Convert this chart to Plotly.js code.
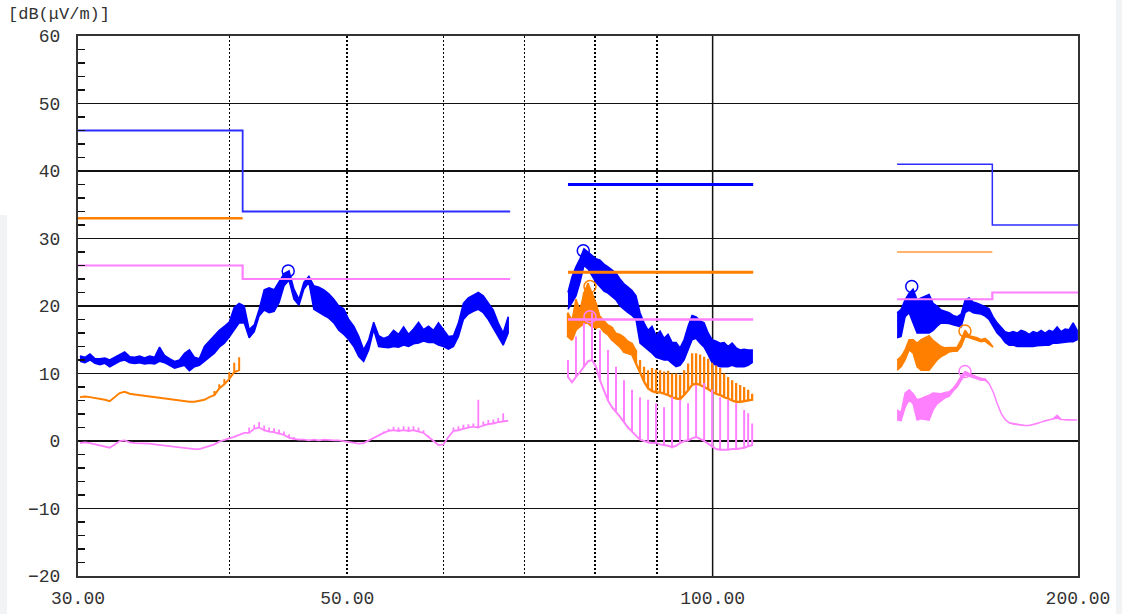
<!DOCTYPE html>
<html><head><meta charset="utf-8">
<script src="https://cdn.plot.ly/plotly-3.0.1.min.js"></script>
<style>html,body{margin:0;padding:0;background:#fff;}#chart{width:1122px;height:614px;}</style>
</head><body><div id="chart"></div>
<script>
// ---------- axis ticks ----------
const xTickVals = [30, 40, 50, 60, 70, 80, 90, 100, 200];
const xTickText = ['30.00', '', '50.00', '', '', '', '', '100.00', '200.00'];
const yUnit = '[dB(\u03bcV/m)]';

// ---------- limit lines (MHz, dBuV/m), null separates the three bands ----------
const blueLimitF   = [30, 41, 41, 68.1, null, 76, 108, null, 141.9, 170, 170, 200];
const blueLimitL   = [46, 46, 34, 34,   null, 38, 38,  null, 41,    41,  32,  32];
const orangeLimitF = [30, 41, null, 76, 108, null, 141.9, 170];
const orangeLimitL = [33, 33, null, 25, 25,  null, 28,    28];
const pinkLimitF   = [30, 41, 41, 68.1, null, 76, 108, null, 141.9, 170, 170, 200];
const pinkLimitL   = [26, 26, 24, 24,   null, 18, 18,  null, 21,    21,  22,  22];

// ---------- band 1 : 30 - 68 MHz ----------
const seg1Freq = [30.11,30.40,30.69,30.98,31.27,31.57,31.86,32.17,32.47,32.78,
  33.09,33.41,33.72,34.04,34.36,34.69,35.02,35.35,35.69,36.03,
  36.37,36.72,37.06,37.42,37.77,38.13,38.49,38.86,39.22,39.60,
  39.97,40.35,40.73,41.12,41.51,41.91,42.30,42.71,43.11,43.52,
  43.93,44.35,44.77,45.19,45.62,46.05,46.49,46.93,47.38,47.83,
  48.28,48.74,49.20,49.67,50.14,50.62,51.10,51.58,52.08,52.57,
  53.07,53.57,54.08,54.59,55.11,55.64,56.17,56.70,57.24,57.78,
  58.33,58.89,59.44,60.01,60.58,61.16,61.74,62.32,62.91,63.51,
  64.11,64.72,65.34,65.96,66.58,67.21,67.85];
const seg1BlueLo = [11.8,11.6,12.0,11.5,11.3,11.5,11.0,11.4,11.8,12.0,
  11.6,11.5,11.6,11.4,11.5,11.4,11.8,11.6,11.2,10.8,
  11.0,11.2,10.4,11.0,11.2,11.8,12.4,13.0,13.9,14.5,
  15.4,16.4,17.5,17.5,15.3,16.2,18.5,19.4,19.0,19.2,
  20.5,23.0,23.8,21.0,20.1,22.5,23.5,19.5,19.0,18.6,
  18.2,17.5,16.4,15.8,15.0,14.0,12.5,11.8,13.5,16.5,
  14.0,13.9,13.8,14.0,13.9,14.2,14.0,14.4,14.5,14.8,
  14.6,14.6,14.2,14.0,13.6,14.0,15.5,18.0,18.8,19.2,
  19.5,19.0,18.0,16.8,15.5,14.2,16.0];
const seg1BlueHi = [12.6,12.4,12.9,12.2,12.2,12.3,12.0,12.4,12.8,13.2,
  12.5,12.4,12.6,12.3,12.6,12.4,13.9,12.7,12.2,11.8,
  12.0,13.0,13.5,12.4,12.2,14.0,14.8,15.6,16.4,17.0,
  17.6,19.8,20.4,20.0,16.5,17.2,19.5,22.4,22.7,22.4,
  23.5,24.8,25.2,22.5,21.0,23.5,24.4,23.0,22.8,22.4,
  21.8,21.0,20.0,19.6,18.0,17.0,15.5,13.5,15.0,17.6,
  15.6,15.2,15.5,16.4,15.8,16.9,15.8,16.6,17.6,16.5,
  17.0,16.4,17.5,16.5,15.5,15.6,17.5,20.4,21.2,21.6,
  22.0,21.5,20.5,19.4,17.5,16.0,18.4];
const seg1OrangeLo = [6.5,6.6,6.5,6.4,6.3,6.1,5.9,6.5,7.1,7.3,
  7.0,6.9,6.8,6.8,6.7,6.6,6.5,6.4,6.3,6.1,
  6.0,5.9,5.8,5.8,5.9,6.1,6.5,6.8,7.8,8.4,
  9.2,10.2,10.5];
const seg1OrangeHi = [6.5,6.6,6.5,6.4,6.3,6.1,5.9,6.5,7.1,7.3,
  7.0,6.9,6.8,6.8,6.7,6.6,6.5,6.4,6.3,6.1,
  6.0,5.9,5.8,5.8,5.9,6.1,6.5,7.4,8.4,9.2,
  10.2,11.6,12.4];
const seg1PinkLo = [-0.3,-0.2,-0.3,-0.5,-0.6,-0.9,-1.0,-0.5,0.0,0.1,
  -0.2,-0.3,-0.3,-0.3,-0.4,-0.5,-0.6,-0.7,-0.8,-0.9,
  -1.0,-1.1,-1.2,-1.2,-1.2,-1.0,-0.7,-0.5,-0.1,0.2,
  0.4,0.6,0.9,1.2,1.2,1.8,2.0,1.6,1.4,1.3,
  1.1,0.9,0.5,0.3,0.2,0.2,0.1,0.2,0.1,0.2,
  0.1,0.1,0.1,0.0,-0.2,-0.3,-0.4,-0.3,0.1,0.5,
  0.9,1.2,1.5,1.6,1.5,1.6,1.5,1.6,1.4,1.2,
  0.6,0.0,-0.6,-0.5,0.6,1.5,1.6,1.8,2.0,2.1,
  2.0,2.3,2.5,2.6,2.8,2.9,3.0];
const seg1PinkHi = [-0.3,-0.2,-0.3,-0.5,-0.6,-0.9,-1.0,-0.5,0.0,0.1,
  -0.2,-0.3,-0.3,-0.3,-0.4,-0.5,-0.6,-0.7,-0.8,-0.9,
  -1.0,-1.1,-1.2,-1.2,-1.2,-1.0,-0.7,-0.5,-0.1,0.2,
  0.4,0.6,0.9,1.2,2.0,2.4,2.8,2.3,2.0,1.9,
  1.7,1.4,1.0,0.6,0.2,0.3,0.2,0.2,0.2,0.2,
  0.1,0.2,0.1,0.0,-0.2,-0.3,-0.4,-0.3,0.1,0.5,
  0.9,1.4,1.8,2.1,2.0,2.2,2.1,2.2,2.0,1.6,
  0.8,0.0,-0.6,-0.5,0.6,2.0,2.2,2.4,2.5,2.6,
  6.1,2.9,3.1,3.2,3.4,4.1,3.0];

// ---------- band 2 : 76 - 108 MHz ----------
const seg2Freq = [76.00,76.58,77.16,77.75,78.34,78.94,79.54,80.15,80.76,81.37,
  81.99,82.62,83.25,83.88,84.52,85.17,85.82,86.47,87.13,87.80,
  88.47,89.14,89.82,90.51,91.20,91.89,92.59,93.30,94.01,94.73,
  95.45,96.18,96.91,97.65,98.40,99.15,99.90,100.66,101.43,102.20,
  102.98,103.77,104.56,105.36,106.16,106.97,107.79];
const seg2BlueLo = [19.5,20.4,21.5,23.5,26.0,25.5,24.5,23.5,22.8,22.2,
  21.9,21.4,20.9,20.0,19.5,19.0,18.6,18.0,14.5,14.0,
  13.5,13.0,12.4,12.2,12.0,12.0,11.5,11.0,11.2,12.0,
  13.5,15.0,15.2,14.5,13.9,12.8,11.6,11.2,11.0,11.0,
  11.0,11.2,11.0,11.0,11.0,11.2,11.6];
const seg2BlueHi = [22.0,24.3,25.8,27.0,28.5,28.0,27.5,27.0,26.8,26.2,
  25.8,25.3,24.9,24.0,23.3,22.8,22.3,21.5,19.0,17.5,
  16.4,17.0,15.6,16.3,15.2,15.8,14.6,14.6,13.8,15.0,
  17.0,18.6,18.4,17.8,17.5,16.0,15.0,14.8,14.5,14.6,
  14.0,14.5,13.8,13.5,13.6,13.5,13.5];
const seg2OrangeLo = [15.5,15.0,16.5,17.0,17.5,17.5,17.0,16.8,17.0,16.2,
  15.8,15.0,14.5,14.0,13.2,13.0,12.8,11.5,10.2,8.8,
  7.8,7.4,7.2,7.2,7.0,6.8,6.5,6.3,6.2,6.8,
  7.5,8.3,8.5,8.3,8.0,7.7,7.3,7.0,6.8,6.5,
  6.3,6.0,5.8,5.8,5.9,6.0,6.1];
const seg2OrangeHi = [19.0,18.0,21.0,19.5,22.0,23.4,22.0,20.5,18.5,17.8,
  17.2,16.9,16.0,15.8,15.4,14.8,14.5,13.5,12.0,11.0,
  10.5,10.8,10.6,10.5,10.3,10.4,10.0,10.0,9.8,10.5,
  11.5,13.0,13.0,12.8,12.5,12.2,11.6,11.2,10.8,10.0,
  9.5,9.0,8.6,8.3,8.0,7.6,7.0];
const seg2PinkLo = [9.5,8.7,9.5,10.2,11.0,11.8,12.0,11.0,9.0,7.5,
  6.0,5.0,4.3,3.6,2.8,2.0,1.4,0.8,0.2,0.0,
  -0.2,-0.3,-0.3,-0.5,-0.6,-0.7,-0.9,-0.7,-0.3,0.0,
  0.1,0.4,0.6,0.3,0.0,-0.4,-0.8,-1.2,-1.3,-1.3,
  -1.3,-1.2,-1.2,-1.1,-1.0,-0.8,-0.6];
const seg2PinkHi = [12.0,8.7,15.5,10.2,17.5,11.8,19.0,11.0,16.4,7.5,
  13.5,5.0,11.0,3.6,9.0,2.0,7.6,0.8,6.5,0.0,
  6.1,-0.3,5.6,-0.5,5.0,-0.7,6.5,-0.7,6.1,0.0,
  5.6,0.4,8.3,0.3,8.6,-0.4,7.6,-1.2,6.5,-1.3,
  6.1,-1.2,5.6,-1.1,4.6,4.1,2.6];

// ---------- band 3 : 142 - 200 MHz ----------
const seg3Freq = [141.90,142.98,144.07,145.17,146.28,147.39,148.51,149.64,150.78,151.93,
  153.09,154.26,155.43,156.62,157.81,159.01,160.22,161.44,162.67,163.91,
  165.16,166.42,167.69,168.96,170.25,171.55,172.86,174.17,175.50,176.84,
  178.18,179.54,180.91,182.29,183.68,185.08,186.49,187.91,189.34,190.78,
  192.23,193.70,195.17,196.66,198.16,199.67];
const seg3BlueLo = [15.3,15.5,18.4,19.0,17.5,16.0,16.0,16.0,16.0,16.4,
  17.0,17.5,17.5,17.4,17.2,17.0,16.9,19.0,19.4,19.0,
  18.9,18.8,18.5,18.0,16.9,16.0,15.4,14.6,14.2,14.2,
  14.0,14.0,13.9,14.0,14.0,14.1,14.2,14.2,14.2,14.5,
  14.5,14.6,14.6,14.7,14.7,15.0];
const seg3BlueHi = [19.0,19.5,20.9,21.9,22.5,20.9,21.2,21.4,21.7,20.4,
  20.0,19.4,19.2,19.0,18.6,18.4,18.8,20.9,21.2,20.6,
  20.4,20.2,19.9,19.6,18.4,17.5,16.9,16.2,16.0,16.2,
  16.0,16.4,16.2,15.8,16.2,16.0,16.4,16.0,16.4,16.2,
  16.9,16.2,16.6,16.5,17.5,16.4];
const seg3OrangeLo = [10.5,11.0,12.0,13.5,13.0,11.0,10.5,10.5,10.5,11.2,
  12.0,12.5,12.8,13.2,13.3,13.3,14.0,15.5,15.2,15.0,
  14.9,14.7,14.8,14.3,13.9];
const seg3OrangeHi = [12.0,12.5,13.5,15.0,15.0,14.5,15.0,15.3,15.6,14.9,
  14.5,14.0,13.8,13.8,13.8,13.9,15.0,16.4,15.6,15.5,
  15.3,15.0,15.2,14.7,13.9];
const seg3PinkLo = [3.1,3.0,5.0,6.1,5.5,3.1,3.3,3.2,3.1,4.6,
  5.5,6.0,6.4,6.6,7.4,8.0,9.0,9.8,9.6,9.3,
  9.2,9.0,9.0,8.5,7.3,5.6,4.1,3.2,2.7,2.5,
  2.4,2.4,2.3,2.3,2.4,2.6,2.8,3.0,3.1,3.3,
  3.4,3.2,3.1,3.1,3.1,3.1];
const seg3PinkHi = [4.6,4.2,7.1,7.6,7.0,6.1,6.3,6.5,6.8,7.1,
  7.0,7.0,7.2,7.3,7.8,8.6,9.6,10.3,10.0,9.7,
  9.5,9.3,9.2,8.5,7.3,5.6,4.1,3.2,2.7,2.5,
  2.4,2.4,2.3,2.3,2.4,2.6,2.8,3.0,3.1,3.3,
  3.8,3.2,3.1,3.1,3.1,3.1];

// ---------- peak markers ----------
const bluePeakF = [44.7, 78.24, 145.9];
const bluePeakL = [25.2, 28.2, 22.9];
const orangePeakF = [79.24, 161.4];
const orangePeakL = [22.9, 16.3];
const pinkPeakF = [79.24, 161.4];
const pinkPeakL = [18.4, 10.3];

// ================= drawing =================
const BLUE = '#0000ff', BLUE_LIM = '#2d2dff';
const ORANGE = '#ff8000', ORANGE_LIM3 = '#ff9a3c';
const PINK = '#ff80ff';
const FONT = 'Liberation Mono, Courier New, monospace';

function band(f, lo, hi, color, w) {
  return {x: f.concat(f.slice().reverse()), y: hi.concat(lo.slice().reverse()),
    type: 'scatter', mode: 'lines', fill: 'toself', fillcolor: color,
    line: {color: color, width: w}, hoverinfo: 'skip'};
}
function comb(f, lo, hi, color, w) {
  const x = [], y = [];
  f.forEach((v, i) => { x.push(v, v, v); y.push(lo[i], hi[i], lo[i]); });
  return {x, y, type: 'scatter', mode: 'lines', line: {color: color, width: w}, hoverinfo: 'skip'};
}
function splitSegs(f, l) {
  const segs = []; let cur = {x: [], y: []};
  f.forEach((v, i) => {
    if (v === null) { segs.push(cur); cur = {x: [], y: []}; }
    else { cur.x.push(v); cur.y.push(l[i]); }
  });
  segs.push(cur); return segs;
}
function limitTraces(f, l, colors, widths) {
  return splitSegs(f, l).map((s, i) => ({x: s.x, y: s.y, type: 'scatter', mode: 'lines',
    line: {color: colors[i], width: widths[i]}, hoverinfo: 'skip'}));
}
function peaks(f, l, color) {
  return {x: f, y: l, type: 'scatter', mode: 'markers', hoverinfo: 'skip',
    marker: {symbol: 'circle-open', size: 12, color: color, line: {color: color, width: 1.5}}};
}

const sub = (a, n) => a.slice(0, n);
const N2 = 18; // dense (solid) part of the orange band-2 trace

const traces = [
  // solid gridline at 100 MHz
  {x: [100, 100], y: [-20, 60], type: 'scatter', mode: 'lines', line: {color: '#111', width: 1.5}, hoverinfo: 'skip'},
  // blue (peak) traces
  band(seg1Freq, seg1BlueLo, seg1BlueHi, BLUE, 1.5),
  band(seg2Freq, seg2BlueLo, seg2BlueHi, BLUE, 1.5),
  band(seg3Freq, seg3BlueLo, seg3BlueHi, BLUE, 1.5),
  // orange traces
  comb(sub(seg1Freq, seg1OrangeLo.length), seg1OrangeLo, seg1OrangeHi, ORANGE, 2),
  band(sub(seg2Freq, N2), sub(seg2OrangeLo, N2), sub(seg2OrangeHi, N2), ORANGE, 1.2),
  comb(seg2Freq, seg2OrangeLo, seg2OrangeHi, ORANGE, 2.3),
  band(sub(seg3Freq, seg3OrangeLo.length), seg3OrangeLo, seg3OrangeHi, ORANGE, 1.5),
  // pink traces
  comb(seg1Freq, seg1PinkLo, seg1PinkHi, PINK, 1.8),
  comb(seg2Freq, seg2PinkLo, seg2PinkHi, PINK, 2),
  band(seg3Freq, seg3PinkLo, seg3PinkHi, PINK, 1.5),
  // limit lines
  ...limitTraces(blueLimitF, blueLimitL, [BLUE_LIM, BLUE, BLUE_LIM], [1.8, 3, 1.5]),
  ...limitTraces(orangeLimitF, orangeLimitL, [ORANGE, ORANGE, ORANGE_LIM3], [2.5, 2.8, 1.6]),
  ...limitTraces(pinkLimitF, pinkLimitL, [PINK, PINK, PINK], [2.2, 2.6, 2.2]),
  // peak markers
  peaks(bluePeakF, bluePeakL, BLUE),
  peaks(orangePeakF, orangePeakL, ORANGE),
  peaks(pinkPeakF, pinkPeakL, PINK)
];

const layout = {
  width: 1122, height: 614,
  margin: {l: 78, r: 44, t: 36, b: 38, pad: 0},
  paper_bgcolor: '#ffffff', plot_bgcolor: '#ffffff',
  showlegend: false,
  font: {family: FONT, color: '#333'},
  xaxis: {
    type: 'log', range: [Math.log10(30), Math.log10(200)],
    tickmode: 'array', tickvals: xTickVals, ticktext: xTickText,
    showgrid: true, gridcolor: '#000', gridwidth: 1.6, griddash: '2px,2px',
    ticks: '', zeroline: false,
    showline: true, mirror: true, linecolor: '#333', linewidth: 2,
    tickfont: {family: FONT, size: 18, color: '#333'},
    ticklabelstandoff: 4
  },
  yaxis: {
    range: [-20, 60], tickmode: 'linear', tick0: 0, dtick: 10,
    showgrid: true, gridcolor: '#111', gridwidth: 1.5,
    ticks: '', zeroline: false,
    showline: true, mirror: true, linecolor: '#333', linewidth: 2,
    tickfont: {family: FONT, size: 18, color: '#333'},
    ticklabelstandoff: 12,
    minor: {ticks: 'inside', dtick: 2, tick0: 0, ticklen: 7, tickwidth: 1.5, tickcolor: '#111', showgrid: false}
  },
  annotations: [{
    text: yUnit, xref: 'paper', yref: 'paper', x: -0.072, y: 1.0407,
    xanchor: 'left', yanchor: 'middle', showarrow: false,
    font: {family: FONT, size: 17, color: '#333'}
  }],
  shapes: [
    {type: 'rect', xref: 'paper', yref: 'paper', x0: -0.078, x1: -0.071, y0: -0.0704, y1: 0.6685,
     fillcolor: '#f2f3f5', line: {width: 0}, layer: 'below'},
    {type: 'rect', xref: 'paper', yref: 'paper', x0: 1.038, x1: 1.044, y0: -0.0704, y1: 1.0667,
     fillcolor: '#f2f3f5', line: {width: 0}, layer: 'below'}
  ]
};

Plotly.newPlot('chart', traces, layout, {displayModeBar: false, staticPlot: true});
</script>
</body></html>
